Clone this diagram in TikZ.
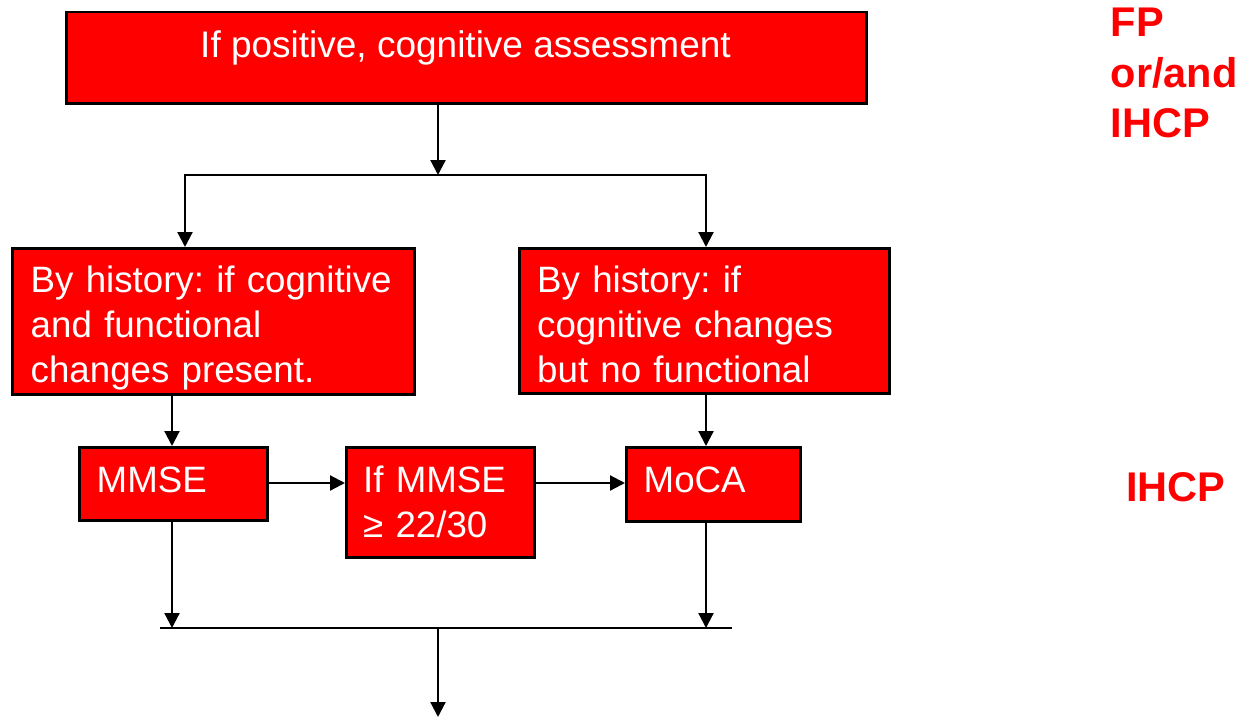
\documentclass[tikz,border=0pt]{standalone}
\usepackage{fontspec}
\setmainfont{Liberation Sans}
\usetikzlibrary{arrows.meta}
\definecolor{boxred}{RGB}{255,0,0}
\frenchspacing
\begin{document}
\begin{tikzpicture}[x=1pt,y=-1pt,
  box/.style={draw=black, line width=2.5pt, fill=boxred, inner sep=0pt, anchor=north west},
  txt/.style={text=white, font=\fontsize{36.7}{45}\selectfont, inner sep=0pt, anchor=base west, align=left},
  side/.style={text=boxred, font=\bfseries\fontsize{41.5}{50.5}\selectfont, inner sep=0pt, anchor=base west, align=left},
  arr/.style={-{Triangle[length=15pt,width=15pt]}, line width=2.2pt},
  ln/.style={line width=2.2pt, line cap=rect}]
\useasboundingbox (0,0) rectangle (1250,717);
% boxes
\node[box, minimum width=800pt, minimum height=91pt] (top) at (65,11) {};
\node[box, minimum width=402pt, minimum height=146pt] (left) at (11,247) {};
\node[box, minimum width=370pt, minimum height=145pt] (right) at (518,247) {};
\node[box, minimum width=188pt, minimum height=73pt] (mmse) at (78,446) {};
\node[box, minimum width=188pt, minimum height=110pt] (ifm) at (345,446) {};
\node[box, minimum width=174pt, minimum height=74pt] (moca) at (625,446) {};
% texts
\node[txt, anchor=base, font=\fontsize{37}{45}\selectfont] (topt) at (465.5,58) {If positive, cognitive assessment};
\node[txt, text width=380pt] (leftt) at (30.5,292.7) {By history: if cognitive\\and functional\\changes present.};
\node[txt, text width=345pt] (rightt) at (537,292.7) {By history: if\\cognitive changes\\but no functional};
\node[txt] (mmset) at (96.5,492) {MMSE};
\node[txt, text width=180pt] (ifmt) at (363,492) {If MMSE\\≥ 22/30};
\node[txt] (mocat) at (643.5,492) {MoCA};
\node[side, text width=140pt] (fp) at (1110.5,37) {FP\\or/and\\IHCP};
\node[side] (ihcp) at (1126,501.7) {IHCP};
% connector points
\coordinate (split) at (438,175);
\coordinate (bl) at (185,175);
\coordinate (br) at (706,175);
\coordinate (jl) at (160,628);
\coordinate (jr) at (732,628);
\coordinate (jm) at (438,628);
\coordinate (ja) at (172,628);
\coordinate (jb) at (706,628);
\coordinate (out) at (438,717);
% connectors
\draw[arr] (top.south -| split) -- (split);
\draw[ln] (bl) -- (br);
\draw[arr] (bl) -- (left.north -| bl);
\draw[arr] (br) -- (right.north -| br);
\draw[arr] (left.south -| ja) -- (mmse.north -| ja);
\draw[arr] (right.south -| jb) -- (moca.north -| jb);
\draw[arr] (mmse.east |- 0,483) -- (ifm.west |- 0,483);
\draw[arr] (ifm.east |- 0,483) -- (moca.west |- 0,483);
\draw[arr] (mmse.south -| ja) -- (ja);
\draw[arr] (moca.south -| jb) -- (jb);
\draw[ln, line cap=butt] (jl) -- (jr);
\draw[arr] (jm) -- (out);
\end{tikzpicture}
\end{document}
